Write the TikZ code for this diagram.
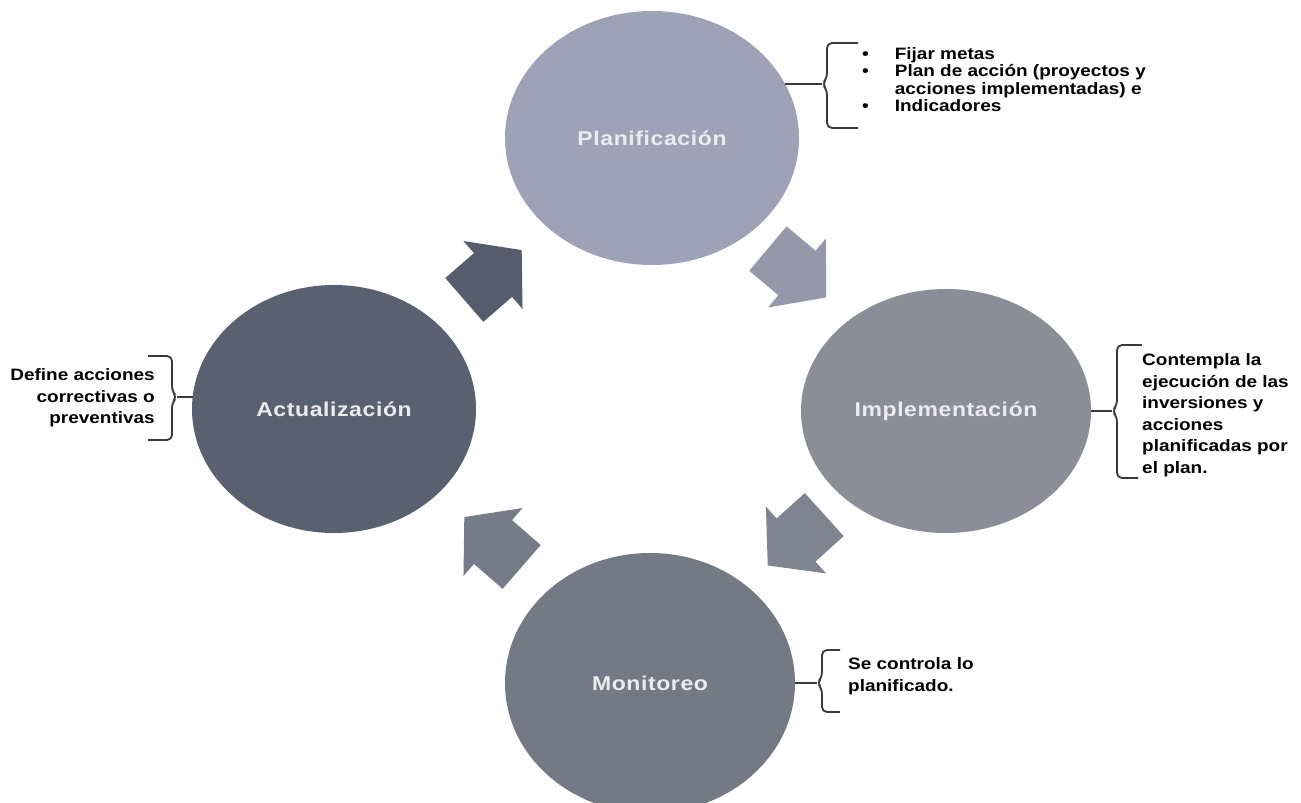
\documentclass[tikz,border=0pt]{standalone}
\usepackage{fontspec}
\setmainfont{Liberation Sans}[FakeStretch=1.15]
\usetikzlibrary{shapes.geometric}
\definecolor{cplan}{HTML}{9FA2B7}
\definecolor{cimpl}{HTML}{8B8D97}
\definecolor{cmoni}{HTML}{747986}
\definecolor{cactu}{HTML}{596070}
\definecolor{carrA}{HTML}{555C6B}
\definecolor{carrB}{HTML}{9698AA}
\definecolor{carrC}{HTML}{808491}
\definecolor{carrD}{HTML}{767B8A}
\definecolor{labelc}{HTML}{ECECF0}
\definecolor{bracec}{HTML}{3A3A3A}
\begin{document}
\begin{tikzpicture}[x=1pt,y=-1pt]
\tikzset{
  stage/.style={ellipse, inner sep=0pt, text=labelc,
    font=\fontsize{20}{22}\selectfont\bfseries\addfontfeatures{LetterSpace=3}},
  side/.style={text=black, inner sep=0pt,
    font=\fontsize{16.5}{21.5}\selectfont\bfseries},
  brace/.style={draw=bracec, line width=1.8pt, rounded corners=5pt},
  tick/.style={draw=bracec, line width=1.8pt},
  barrow/.pic={\fill[#1] (-38,-29) -- (0,-29) -- (0,-45) -- (38,0) -- (0,45) -- (0,29) -- (-38,29) -- cycle;}
}
\useasboundingbox[fill=white] (0,0) rectangle (1301,803);

% stages
\node[stage, fill=cplan, minimum width=294pt, minimum height=254pt] (plan) at (652,138) {Planificación};
\node[stage, fill=cimpl, minimum width=290pt, minimum height=244pt] (impl) at (946,411) {Implementación};
\node[stage, fill=cmoni, minimum width=290pt, minimum height=260pt] (moni) at (650,683) {Monitoreo};
\node[stage, fill=cactu, minimum width=284pt, minimum height=248pt] (actu) at (334,409) {Actualización};

% block arrows
\pic[rotate=41] at (493,275) {barrow=carrA};
\pic[rotate=-40] at (797,273) {barrow=carrB};
\pic[rotate=-138] at (796,540) {barrow=carrC};
\pic[rotate=139] at (493,542) {barrow=carrD};

% side texts
\node[side, anchor=west, font=\fontsize{16.5}{17.5}\selectfont\bfseries] (plantxt) at (862,82)
  {\begin{tabular}{@{}l@{\hspace{26pt}}l@{}}•&Fijar metas\\•&Plan de acción (proyectos y\\&acciones implementadas) e\\•&Indicadores\end{tabular}};
\node[side, anchor=west, align=left] (impltxt) at (1142,415)
  {Contempla la\\ejecución de las\\inversiones y\\acciones\\planificadas por\\el plan.};
\node[side, anchor=east, align=right] (actutxt) at (155,398)
  {Define acciones\\correctivas o\\preventivas};
\node[side, anchor=west, align=left] (monitxt) at (848,676)
  {Se controla lo\\planificado.};

% braces
\coordinate (pbr) at (822,84);
\draw[brace] (858,43) -- (827,43) -- (827,78) -- (pbr) -- (827,90) -- (827,128) -- (858,128);
\draw[tick] (plan.22) -- (plan.22 -| pbr);

\coordinate (ibr) at (1112,411);
\draw[brace] (1142,345) -- (1117,345) -- (1117,405) -- (ibr) -- (1117,417) -- (1117,478) -- (1138,478);
\draw[tick] (impl.east) -- (impl.east -| ibr);

\coordinate (abr) at (177,397);
\draw[brace] (148,356) -- (172,356) -- (172,391) -- (abr) -- (172,403) -- (172,440) -- (148,440);
\draw[tick] (actu.175) -- (actu.175 -| abr);

\coordinate (mbr) at (817,683);
\draw[brace] (840,650) -- (822,650) -- (822,677) -- (mbr) -- (822,689) -- (822,712) -- (840,712);
\draw[tick] (moni.east) -- (moni.east -| mbr);
\end{tikzpicture}
\end{document}
